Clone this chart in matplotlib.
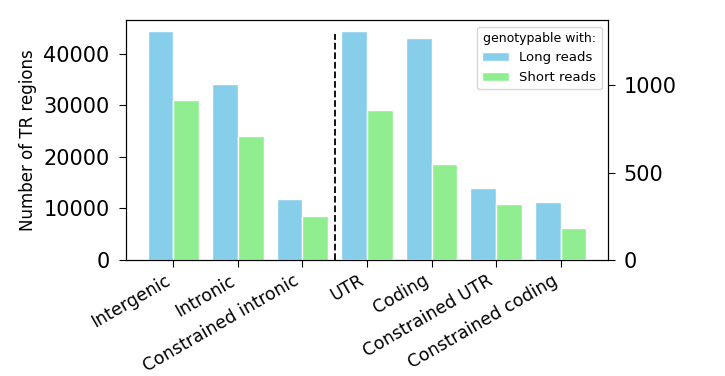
import matplotlib
matplotlib.use("Agg")
import matplotlib.pyplot as plt
import numpy as np

categories_left = ["Intergenic", "Intronic", "Constrained intronic"]
categories_right = ["UTR", "Coding", "Constrained UTR", "Constrained coding"]
long_left = [44320, 34050, 11760]
short_left = [31000, 23970, 8530]
long_right = [1307, 1270, 410, 331]
short_right = [857, 549, 318, 185]

long_color = "#87CEEB"
short_color = "#90EE90"

fig = plt.figure(figsize=(7.25, 3.76), dpi=100)
ax = fig.add_axes([0.1734, 0.3085, 0.6656, 0.6383])
ax2 = ax.twinx()

xl = np.arange(len(categories_left))
xr = np.arange(len(categories_left), len(categories_left) + len(categories_right))
w = 0.4

ax.bar(xl - w / 2, long_left, w, color=long_color, edgecolor="white", linewidth=1, label="Long reads")
ax.bar(xl + w / 2, short_left, w, color=short_color, edgecolor="white", linewidth=1, label="Short reads")
b1 = ax2.bar(xr - w / 2, long_right, w, color=long_color, edgecolor="white", linewidth=1, label="Long reads")
b2 = ax2.bar(xr + w / 2, short_right, w, color=short_color, edgecolor="white", linewidth=1, label="Short reads")

ax.axvline(2.5, ymin=0, ymax=0.94, color="black", linestyle="--", linewidth=1.3)

allx = np.concatenate([xl, xr])
ax.set_xticks(allx)
ax.set_xticklabels(categories_left + categories_right, rotation=30, ha="right", fontsize=12.5)
ax.set_ylabel("Number of TR regions", fontsize=12, labelpad=5)
ax.tick_params(axis="y", labelsize=15, length=4.7, pad=6.8)
ax2.tick_params(axis="y", labelsize=15, length=4.7, pad=6.3)
ax.tick_params(axis="x", length=4.7, pad=3.5)
ax2.set_yticks([0, 500, 1000])
ax.set_yticks([0, 10000, 20000, 30000, 40000])

leg = ax2.legend(handles=[b1, b2], title="genotypable with:", loc="upper right",
                 fontsize=9.5, title_fontsize=9)

fig.savefig("out.png", dpi=100)
